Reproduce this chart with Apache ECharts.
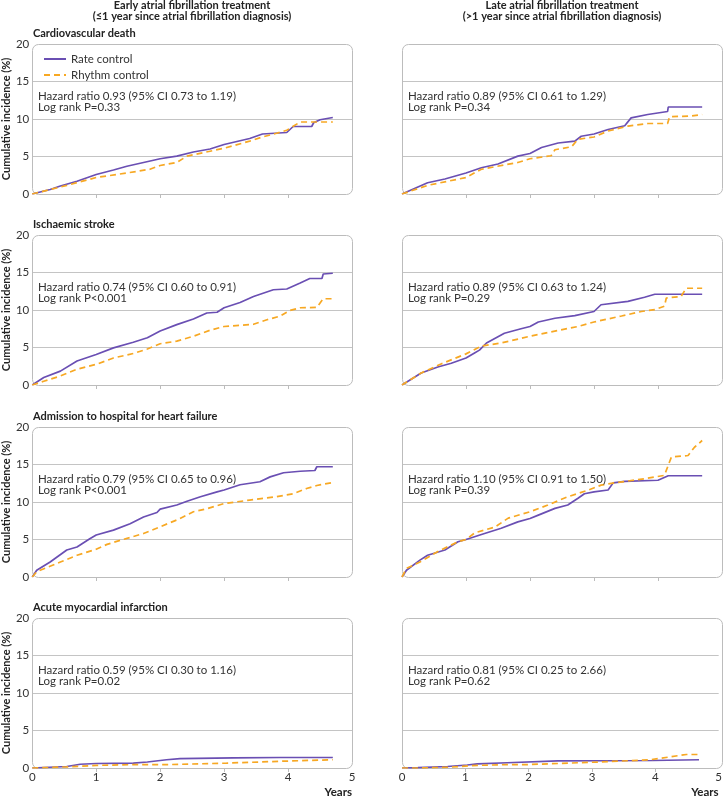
<!DOCTYPE html>
<html>
<head>
<meta charset="utf-8">
<script src="https://cdn.jsdelivr.net/npm/echarts@6/dist/echarts.min.js"></script>
<style>html,body{margin:0;padding:0;background:#fff}#c{width:725px;height:799px}</style>
</head>
<body>
<div id="c"></div>
<script>
// ---------- DATA (years, cumulative incidence %) ----------
const columnTitles = [
  'Early atrial fibrillation treatment\n(\u22641 year since atrial fibrillation diagnosis)',
  'Late atrial fibrillation treatment\n(>1 year since atrial fibrillation diagnosis)'
];
const outcomes = ['Cardiovascular death', 'Ischaemic stroke', 'Admission to hospital for heart failure', 'Acute myocardial infarction'];
const seriesNames = ['Rate control', 'Rhythm control'];
const xTicks = [0, 1, 2, 3, 4, 5];
const yTicks = [0, 5, 10, 15, 20];

const statsEarly = [
  'Hazard ratio 0.93 (95% CI 0.73 to 1.19)\nLog rank P=0.33',
  'Hazard ratio 0.74 (95% CI 0.60 to 0.91)\nLog rank P<0.001',
  'Hazard ratio 0.79 (95% CI 0.65 to 0.96)\nLog rank P<0.001',
  'Hazard ratio 0.59 (95% CI 0.30 to 1.16)\nLog rank P=0.02'
];
const statsLate = [
  'Hazard ratio 0.89 (95% CI 0.61 to 1.29)\nLog rank P=0.34',
  'Hazard ratio 0.89 (95% CI 0.63 to 1.24)\nLog rank P=0.29',
  'Hazard ratio 1.10 (95% CI 0.91 to 1.50)\nLog rank P=0.39',
  'Hazard ratio 0.81 (95% CI 0.25 to 2.66)\nLog rank P=0.62'
];

// Cardiovascular death
const cvdEarlyRate = [[0,0],[0.28,0.6],[0.44,1.06],[0.7,1.7],[1.0,2.6],[1.27,3.2],[1.48,3.7],[1.74,4.2],[2.0,4.7],[2.26,5.05],[2.52,5.6],[2.78,6.0],[3.0,6.6],[3.15,6.9],[3.4,7.4],[3.6,8.0],[3.98,8.2],[4.08,9.0],[4.37,9.0],[4.4,9.5],[4.5,9.9],[4.7,10.2]];
const cvdEarlyRhythm = [[0,0],[0.54,1.15],[1.0,2.2],[1.48,2.8],[1.84,3.3],[2.0,3.8],[2.26,4.2],[2.42,5.05],[2.78,5.7],[3.0,6.1],[3.4,7.05],[3.6,7.6],[3.82,8.1],[3.98,8.5],[4.19,9.6],[4.7,9.6]];
const cvdLateRate = [[0,0],[0.4,1.5],[0.67,2.0],[1.0,2.8],[1.24,3.5],[1.5,4.0],[1.81,5.05],[2.0,5.4],[2.18,6.2],[2.44,6.8],[2.7,7.05],[2.8,7.7],[3.0,8.0],[3.22,8.6],[3.48,9.1],[3.58,10.15],[3.84,10.6],[4.15,11.0],[4.16,11.6],[4.69,11.6]];
const cvdLateRhythm = [[0,0],[0.4,1.15],[1.0,2.2],[1.24,3.3],[1.81,4.2],[2.0,4.7],[2.33,5.1],[2.39,5.9],[2.65,6.3],[2.75,7.3],[3.0,7.6],[3.22,8.4],[3.53,9.05],[3.84,9.4],[4.15,9.4],[4.18,10.3],[4.52,10.4],[4.69,10.6]];

// Ischaemic stroke
const strokeEarlyRate = [[0,0],[0.18,1.0],[0.44,1.85],[0.7,3.2],[1.0,4.07],[1.27,4.95],[1.58,5.7],[1.8,6.3],[2.0,7.2],[2.26,8.05],[2.52,8.8],[2.73,9.6],[2.89,9.7],[3.0,10.3],[3.25,11.0],[3.46,11.8],[3.77,12.7],[3.98,12.8],[4.19,13.6],[4.34,14.2],[4.53,14.2],[4.55,14.8],[4.7,14.9]];
const strokeEarlyRhythm = [[0,0],[0.18,0.5],[0.44,1.2],[0.7,2.1],[1.0,2.75],[1.27,3.6],[1.58,4.2],[1.8,4.8],[2.0,5.5],[2.26,5.85],[2.52,6.5],[2.78,7.3],[3.0,7.8],[3.46,8.1],[3.67,8.7],[3.88,9.2],[4.03,9.95],[4.19,10.3],[4.45,10.35],[4.55,11.5],[4.7,11.5]];
const strokeLateRate = [[0,0],[0.3,1.6],[0.56,2.4],[0.77,2.9],[1.0,3.6],[1.14,4.3],[1.21,4.65],[1.32,5.6],[1.6,6.9],[1.86,7.5],[2.0,7.8],[2.13,8.4],[2.39,8.9],[2.7,9.25],[3.0,9.8],[3.11,10.7],[3.53,11.15],[3.79,11.7],[3.95,12.1],[4.69,12.1]];
const strokeLateRhythm = [[0,0],[0.3,1.6],[0.61,2.8],[1.0,4.15],[1.24,5.2],[1.55,5.6],[2.0,6.5],[2.28,7.0],[2.75,7.8],[3.0,8.4],[3.43,9.2],[3.74,9.8],[3.95,10.05],[4.1,10.5],[4.13,11.6],[4.36,11.8],[4.44,12.9],[4.69,12.9]];

// Admission to hospital for heart failure
const hfEarlyRate = [[0,0],[0.07,0.9],[0.28,2.0],[0.54,3.6],[0.7,4.0],[0.9,5.1],[1.0,5.6],[1.27,6.25],[1.53,7.1],[1.74,8.0],[1.95,8.6],[2.0,9.05],[2.26,9.6],[2.42,10.1],[2.63,10.7],[2.89,11.35],[3.0,11.6],[3.25,12.3],[3.56,12.7],[3.72,13.35],[3.93,13.9],[4.19,14.1],[4.42,14.2],[4.45,14.7],[4.7,14.7]];
const hfEarlyRhythm = [[0,0],[0.07,0.7],[0.44,2.0],[0.7,2.9],[1.0,3.7],[1.17,4.35],[1.38,4.9],[1.74,5.8],[2.0,6.7],[2.26,7.6],[2.52,8.7],[2.73,9.1],[3.0,9.8],[3.4,10.25],[3.82,10.7],[4.08,11.1],[4.29,11.8],[4.45,12.2],[4.7,12.6]];
const hfLateRate = [[0,0],[0.07,0.9],[0.28,2.25],[0.4,2.9],[0.67,3.6],[0.875,4.7],[1.0,5.0],[1.29,5.8],[1.55,6.5],[1.81,7.35],[2.0,7.8],[2.13,8.25],[2.39,9.15],[2.59,9.6],[2.75,10.5],[2.85,11.1],[3.0,11.35],[3.22,11.6],[3.3,12.55],[3.48,12.75],[4.0,12.9],[4.16,13.5],[4.69,13.5]];
const hfLateRhythm = [[0,0],[0.07,1.15],[0.28,2.0],[0.56,3.4],[0.875,4.7],[1.0,5.0],[1.14,5.9],[1.45,6.65],[1.66,7.85],[2.0,8.7],[2.28,9.6],[2.59,10.7],[2.9,11.55],[3.11,12.25],[3.32,12.55],[3.79,13.1],[4.1,13.55],[4.21,16.0],[4.47,16.2],[4.57,17.3],[4.69,18.2]];

// Acute myocardial infarction
const amiEarlyRate = [[0,0],[0.54,0.2],[0.75,0.5],[1.0,0.6],[1.58,0.65],[1.8,0.8],[2.1,1.1],[2.31,1.25],[3.15,1.35],[3.88,1.4],[4.7,1.4]];
const amiEarlyRhythm = [[0,0],[0.54,0.15],[1.0,0.35],[1.58,0.45],[2.1,0.45],[3.04,0.65],[3.88,0.9],[4.7,1.1]];
const amiLateRate = [[0,0],[0.25,0.05],[0.72,0.2],[1.03,0.4],[1.19,0.55],[1.66,0.7],[2.46,0.95],[3.95,1.0],[3.97,1.1],[4.69,1.1]];
const amiLateRhythm = [[0,0],[0.25,0],[0.72,0.1],[1.19,0.35],[1.66,0.45],[1.97,0.45],[3.11,0.8],[3.92,1.1],[4.49,1.8],[4.69,1.8]];

const panelData = [
  [[cvdEarlyRate, cvdEarlyRhythm], [cvdLateRate, cvdLateRhythm]],
  [[strokeEarlyRate, strokeEarlyRhythm], [strokeLateRate, strokeLateRhythm]],
  [[hfEarlyRate, hfEarlyRhythm], [hfLateRate, hfLateRhythm]],
  [[amiEarlyRate, amiEarlyRhythm], [amiLateRate, amiLateRhythm]]
];
const panelStats = [statsEarly, statsLate];

// ---------- LAYOUT / STYLE ----------
const FONT = 'Lato, "Liberation Sans", sans-serif';
const colLeft = [32, 402];
const rowTop = [44, 235, 427, 618];
const plotW = 320, plotH = 150;
const purple = '#6a4fb3';
const orange = '#f7a823';
const borderCol = '#bcbcbc';
const textCol = '#333333';

const grids = [], xAxes = [], yAxes = [], series = [], graphics = [];
let gi = 0;
for (let r = 0; r < 4; r++) {
  for (let c = 0; c < 2; c++) {
    const left = colLeft[c], top = rowTop[r];
    grids.push({ left: left, top: top, width: plotW, height: plotH, containLabel: false });
    const bottomRow = r === 3;
    xAxes.push({
      type: 'value', gridIndex: gi, min: xTicks[0], max: xTicks[xTicks.length - 1], interval: 1,
      axisLine: { show: false },
      axisTick: { show: true, length: 4, lineStyle: { color: borderCol }, customValues: xTicks.slice(1, -1) },
      splitLine: { show: false },
      axisLabel: { show: bottomRow, fontSize: 11.5, color: textCol, fontFamily: FONT, margin: 3 },
      name: bottomRow ? 'Years' : '',
      nameLocation: 'end', nameGap: 0,
      nameTextStyle: { fontSize: 11.5, fontWeight: 'bold', color: '#222', fontFamily: FONT, align: 'right', verticalAlign: 'top', padding: [18, 0, 0, 0] }
    });
    yAxes.push({
      type: 'value', gridIndex: gi, min: yTicks[0], max: yTicks[yTicks.length - 1], interval: 5,
      axisLine: { show: false }, axisTick: { show: false },
      splitLine: { show: true, showMinLine: false, showMaxLine: false, lineStyle: { color: '#c4c4c4', width: 1 } },
      axisLabel: { show: c === 0, fontSize: 11.5, color: textCol, fontFamily: FONT, margin: 3 },
      name: c === 0 ? 'Cumulative incidence (%)' : '',
      nameLocation: 'middle', nameGap: 18,
      nameTextStyle: { fontSize: 11, fontWeight: 'bold', color: '#222', fontFamily: FONT }
    });
    const [rate, rhythm] = panelData[r][c];
    series.push({
      name: seriesNames[0], type: 'line', xAxisIndex: gi, yAxisIndex: gi, data: rate,
      symbol: 'none', color: purple, lineStyle: { color: purple, width: 1.7 }, z: 3, silent: true
    });
    series.push({
      name: seriesNames[1], type: 'line', xAxisIndex: gi, yAxisIndex: gi, data: rhythm,
      symbol: 'none', color: orange, lineStyle: { color: orange, width: 1.7, type: [6, 4] }, z: 4, silent: true
    });
    // rounded plot frame
    graphics.push({
      type: 'rect', z: 1, silent: true,
      shape: { x: left + 0.5, y: top + 0.5, width: plotW, height: plotH, r: 6 },
      style: { fill: null, stroke: borderCol, lineWidth: 1 }
    });
    // statistics text
    graphics.push({
      type: 'text', z: 5, silent: true, x: left + 6, y: top + 46.5,
      style: { text: panelStats[c][r], font: '11.5px ' + FONT, fill: textCol, lineHeight: 11.5 }
    });
    // panel title (left column only)
    if (c === 0) {
      graphics.push({
        type: 'text', z: 5, silent: true, x: left + 1, y: top - 16,
        style: { text: outcomes[r], font: 'bold 11px ' + FONT, fill: '#222' }
      });
    }
    gi++;
  }
}
// column headers
graphics.push({ type: 'text', silent: true, x: colLeft[0] + 160, y: 0,
  style: { text: columnTitles[0], font: 'bold 11px ' + FONT, fill: '#222', align: 'center', lineHeight: 11 } });
graphics.push({ type: 'text', silent: true, x: colLeft[1] + 160, y: 0,
  style: { text: columnTitles[1], font: 'bold 11px ' + FONT, fill: '#222', align: 'center', lineHeight: 11 } });

const chart = echarts.init(document.getElementById('c'), null, { renderer: 'canvas' });
chart.setOption({
  animation: false,
  backgroundColor: '#fff',
  textStyle: { fontFamily: FONT },
  grid: grids, xAxis: xAxes, yAxis: yAxes, series: series,
  legend: {
    data: seriesNames, orient: 'vertical', left: 38, top: 48,
    itemWidth: 22, itemHeight: 10, itemGap: 4,
    itemStyle: { opacity: 0, borderWidth: 0 },
    textStyle: { fontSize: 11.5, color: textCol, fontFamily: FONT },
    selectedMode: false
  },
  graphic: graphics
});
</script>
</body>
</html>
